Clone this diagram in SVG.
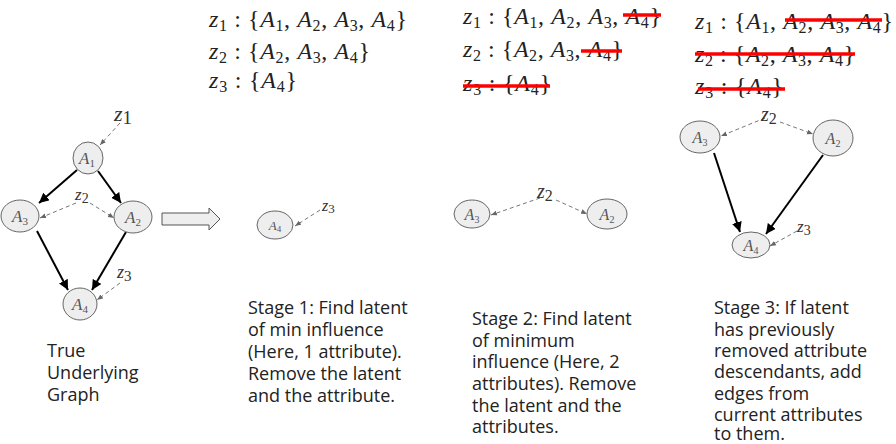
<svg xmlns="http://www.w3.org/2000/svg" width="896" height="444" viewBox="0 0 896 444">
<style>
.m{font-family:"Liberation Serif",serif;font-size:24px;fill:#222}
.i{font-style:italic}
.s{font-size:16px}
.node ellipse{fill:#eeeeee;stroke:#666;stroke-width:1}
.nl{font-family:"Liberation Serif",serif;font-style:italic;fill:#555;text-anchor:middle}
.zl{font-family:"Liberation Serif",serif;font-style:italic;fill:#333}
.solid{stroke:#000;stroke-width:2;fill:none;marker-end:url(#ah)}
.dash{stroke:#777;stroke-width:1;stroke-dasharray:4 3;fill:none;marker-end:url(#dh)}
.strike{stroke:#f00;stroke-width:3.5}
.t{font-family:"Open Sans",sans-serif;font-size:18px;fill:#222}
</style>
<defs>
<marker id="ah" viewBox="0 0 10 10" refX="10" refY="5" markerWidth="5" markerHeight="5" orient="auto" markerUnits="strokeWidth"><path d="M0,0 L10,5 L0,10 Z" fill="#000"/></marker>
<marker id="dh" viewBox="0 0 10 10" refX="10" refY="5" markerWidth="6" markerHeight="6" orient="auto" markerUnits="strokeWidth"><path d="M0,1 L10,5 L0,9 Z" fill="#666"/></marker>
</defs>

<!-- Formulas stage 1 -->
<g id="formulas1">
<text class="m" x="209" y="27" textLength="198" lengthAdjust="spacing"><tspan class="i">z</tspan><tspan class="s" dy="4">1</tspan><tspan dy="-4"> : {</tspan><tspan class="i">A</tspan><tspan class="s" dy="4">1</tspan><tspan dy="-4">, </tspan><tspan class="i">A</tspan><tspan class="s" dy="4">2</tspan><tspan dy="-4">, </tspan><tspan class="i">A</tspan><tspan class="s" dy="4">3</tspan><tspan dy="-4">, </tspan><tspan class="i">A</tspan><tspan class="s" dy="4">4</tspan><tspan dy="-4">}</tspan></text>
<text class="m" x="209" y="59" textLength="161" lengthAdjust="spacing"><tspan class="i">z</tspan><tspan class="s" dy="4">2</tspan><tspan dy="-4"> : {</tspan><tspan class="i">A</tspan><tspan class="s" dy="4">2</tspan><tspan dy="-4">, </tspan><tspan class="i">A</tspan><tspan class="s" dy="4">3</tspan><tspan dy="-4">, </tspan><tspan class="i">A</tspan><tspan class="s" dy="4">4</tspan><tspan dy="-4">}</tspan></text>
<text class="m" x="209" y="88" textLength="88" lengthAdjust="spacing"><tspan class="i">z</tspan><tspan class="s" dy="4">3</tspan><tspan dy="-4"> : {</tspan><tspan class="i">A</tspan><tspan class="s" dy="4">4</tspan><tspan dy="-4">}</tspan></text>
</g>
<!-- Formulas stage 2 -->
<g id="formulas2">
<text class="m" x="463" y="24" textLength="198" lengthAdjust="spacing"><tspan class="i">z</tspan><tspan class="s" dy="4">1</tspan><tspan dy="-4"> : {</tspan><tspan class="i">A</tspan><tspan class="s" dy="4">1</tspan><tspan dy="-4">, </tspan><tspan class="i">A</tspan><tspan class="s" dy="4">2</tspan><tspan dy="-4">, </tspan><tspan class="i">A</tspan><tspan class="s" dy="4">3</tspan><tspan dy="-4">, </tspan><tspan class="i">A</tspan><tspan class="s" dy="4">4</tspan><tspan dy="-4">}</tspan></text>
<text class="m" x="463" y="57" textLength="160" lengthAdjust="spacing"><tspan class="i">z</tspan><tspan class="s" dy="4">2</tspan><tspan dy="-4"> : {</tspan><tspan class="i">A</tspan><tspan class="s" dy="4">2</tspan><tspan dy="-4">, </tspan><tspan class="i">A</tspan><tspan class="s" dy="4">3</tspan><tspan dy="-4">, </tspan><tspan class="i">A</tspan><tspan class="s" dy="4">4</tspan><tspan dy="-4">}</tspan></text>
<text class="m" x="463" y="91" textLength="88" lengthAdjust="spacing"><tspan class="i">z</tspan><tspan class="s" dy="4">3</tspan><tspan dy="-4"> : {</tspan><tspan class="i">A</tspan><tspan class="s" dy="4">4</tspan><tspan dy="-4">}</tspan></text>
<line class="strike" x1="623" y1="15" x2="661" y2="15"/>
<line class="strike" x1="581" y1="51" x2="622" y2="51"/>
<line class="strike" x1="463" y1="86" x2="550" y2="86"/>
</g>
<!-- Formulas stage 3 -->
<g id="formulas3">
<text class="m" x="695" y="29" textLength="198" lengthAdjust="spacing"><tspan class="i">z</tspan><tspan class="s" dy="4">1</tspan><tspan dy="-4"> : {</tspan><tspan class="i">A</tspan><tspan class="s" dy="4">1</tspan><tspan dy="-4">, </tspan><tspan class="i">A</tspan><tspan class="s" dy="4">2</tspan><tspan dy="-4">, </tspan><tspan class="i">A</tspan><tspan class="s" dy="4">3</tspan><tspan dy="-4">, </tspan><tspan class="i">A</tspan><tspan class="s" dy="4">4</tspan><tspan dy="-4">}</tspan></text>
<text class="m" x="695" y="62" textLength="160" lengthAdjust="spacing"><tspan class="i">z</tspan><tspan class="s" dy="4">2</tspan><tspan dy="-4"> : {</tspan><tspan class="i">A</tspan><tspan class="s" dy="4">2</tspan><tspan dy="-4">, </tspan><tspan class="i">A</tspan><tspan class="s" dy="4">3</tspan><tspan dy="-4">, </tspan><tspan class="i">A</tspan><tspan class="s" dy="4">4</tspan><tspan dy="-4">}</tspan></text>
<text class="m" x="695" y="94" textLength="88" lengthAdjust="spacing"><tspan class="i">z</tspan><tspan class="s" dy="4">3</tspan><tspan dy="-4"> : {</tspan><tspan class="i">A</tspan><tspan class="s" dy="4">4</tspan><tspan dy="-4">}</tspan></text>
<line class="strike" x1="785" y1="20" x2="882" y2="20"/>
<line class="strike" x1="695" y1="54" x2="855" y2="54"/>
<line class="strike" x1="698" y1="89" x2="785" y2="89"/>
</g>

<!-- Connectors -->
<g id="connectors">
<line class="solid" x1="77" y1="170" x2="39" y2="203"/>
<line class="solid" x1="98" y1="171" x2="121" y2="203"/>
<line class="solid" x1="37" y1="231" x2="68" y2="290"/>
<line class="solid" x1="126" y1="232" x2="92" y2="290"/>
<line class="dash" x1="120" y1="123" x2="100" y2="145"/>
<line class="dash" x1="76" y1="203" x2="40" y2="218"/>
<line class="dash" x1="90" y1="203" x2="114" y2="218"/>
<line class="dash" x1="120" y1="283" x2="97" y2="300"/>
<line class="dash" x1="320" y1="210" x2="295" y2="226"/>
<line class="dash" x1="540" y1="198" x2="491" y2="215"/>
<line class="dash" x1="556" y1="200" x2="587" y2="214"/>
<line class="dash" x1="765" y1="118" x2="721" y2="136"/>
<line class="dash" x1="780" y1="122" x2="813" y2="134"/>
<line class="solid" x1="714" y1="153" x2="740" y2="232"/>
<line class="solid" x1="823" y1="155" x2="766" y2="234"/>
<line class="dash" x1="797" y1="231" x2="770" y2="246"/>
<path d="M162,213 H209 V208 L220,219 L209,230 V225 H162 Z" fill="#eeeeee" stroke="#555" stroke-width="1"/>
</g>

<!-- Left graph -->
<g id="g0-A1" class="node"><ellipse cx="88" cy="158" rx="15" ry="16"/><text class="nl" x="87" y="164" font-size="17">A<tspan font-size="11" font-style="normal" dy="3">1</tspan></text></g>
<g id="g0-A3" class="node"><ellipse cx="20" cy="216" rx="19" ry="16"/><text class="nl" x="20" y="222" font-size="17">A<tspan font-size="11" font-style="normal" dy="3">3</tspan></text></g>
<g id="g0-A2" class="node"><ellipse cx="133" cy="217" rx="19" ry="16"/><text class="nl" x="133" y="223" font-size="17">A<tspan font-size="11" font-style="normal" dy="3">2</tspan></text></g>
<g id="g0-A4" class="node"><ellipse cx="80" cy="304" rx="17" ry="16"/><text class="nl" x="80" y="310" font-size="17">A<tspan font-size="11" font-style="normal" dy="3">4</tspan></text></g>
<g id="g0-z1"><text class="zl" x="114" y="121" font-size="22">z<tspan font-style="normal" font-size="19" dy="3">1</tspan></text></g>
<g id="g0-z2"><text class="zl" x="75" y="200" font-size="17">z<tspan font-style="normal" font-size="14" dy="3">2</tspan></text></g>
<g id="g0-z3"><text class="zl" x="117" y="278" font-size="18">z<tspan font-style="normal" font-size="15" dy="3">3</tspan></text></g>

<!-- Stage 1 graph -->
<g id="g1-A4" class="node"><ellipse cx="275" cy="225" rx="18" ry="14"/><text class="nl" x="275" y="230" font-size="13">A<tspan font-size="9" font-style="normal" dy="2">4</tspan></text></g>
<g id="g1-z3"><text class="zl" x="322" y="211" font-size="16">z<tspan font-style="normal" font-size="13" dy="2">3</tspan></text></g>

<!-- Stage 2 graph -->
<g id="g2-A3" class="node"><ellipse cx="472" cy="214" rx="18" ry="14"/><text class="nl" x="472" y="220" font-size="16">A<tspan font-size="10" font-style="normal" dy="3">3</tspan></text></g>
<g id="g2-A2" class="node"><ellipse cx="607" cy="214" rx="20" ry="15"/><text class="nl" x="607" y="220" font-size="16">A<tspan font-size="10" font-style="normal" dy="3">2</tspan></text></g>
<g id="g2-z2"><text class="zl" x="537" y="198" font-size="20">z<tspan font-style="normal" font-size="16" dy="3">2</tspan></text></g>

<!-- Stage 3 graph -->
<g id="g3-A3" class="node"><ellipse cx="700" cy="137" rx="20" ry="16"/><text class="nl" x="700" y="143" font-size="16">A<tspan font-size="10" font-style="normal" dy="3">3</tspan></text></g>
<g id="g3-A2" class="node"><ellipse cx="833" cy="138" rx="20" ry="18"/><text class="nl" x="833" y="144" font-size="16">A<tspan font-size="10" font-style="normal" dy="3">2</tspan></text></g>
<g id="g3-A4" class="node"><ellipse cx="751" cy="245" rx="19" ry="13"/><text class="nl" x="751" y="251" font-size="16">A<tspan font-size="10" font-style="normal" dy="3">4</tspan></text></g>
<g id="g3-z2"><text class="zl" x="761" y="121" font-size="20">z<tspan font-style="normal" font-size="16" dy="3">2</tspan></text></g>
<g id="g3-z3"><text class="zl" x="797" y="232" font-size="17">z<tspan font-style="normal" font-size="14" dy="3">3</tspan></text></g>

<!-- Captions -->
<g id="cap0"><text class="t"><tspan x="47" y="357">True</tspan><tspan x="47" y="379">Underlying</tspan><tspan x="47" y="401">Graph</tspan></text></g>
<g id="cap1"><text class="t"><tspan x="248" y="314">Stage 1: Find latent</tspan><tspan x="248" y="336">of min influence</tspan><tspan x="248" y="358">(Here, 1 attribute).</tspan><tspan x="248" y="380">Remove the latent</tspan><tspan x="248" y="402">and the attribute.</tspan></text></g>
<g id="cap2"><text class="t"><tspan x="472" y="325">Stage 2: Find latent</tspan><tspan x="472" y="347">of minimum</tspan><tspan x="472" y="368">influence (Here, 2</tspan><tspan x="472" y="390">attributes). Remove</tspan><tspan x="472" y="412">the latent and the</tspan><tspan x="472" y="433">attributes.</tspan></text></g>
<g id="cap3"><text class="t"><tspan x="714" y="314">Stage 3: If latent</tspan><tspan x="714" y="336">has previously</tspan><tspan x="714" y="357">removed attribute</tspan><tspan x="714" y="378">descendants, add</tspan><tspan x="714" y="400">edges from</tspan><tspan x="714" y="421">current attributes</tspan><tspan x="714" y="440">to them.</tspan></text></g>
</svg>
